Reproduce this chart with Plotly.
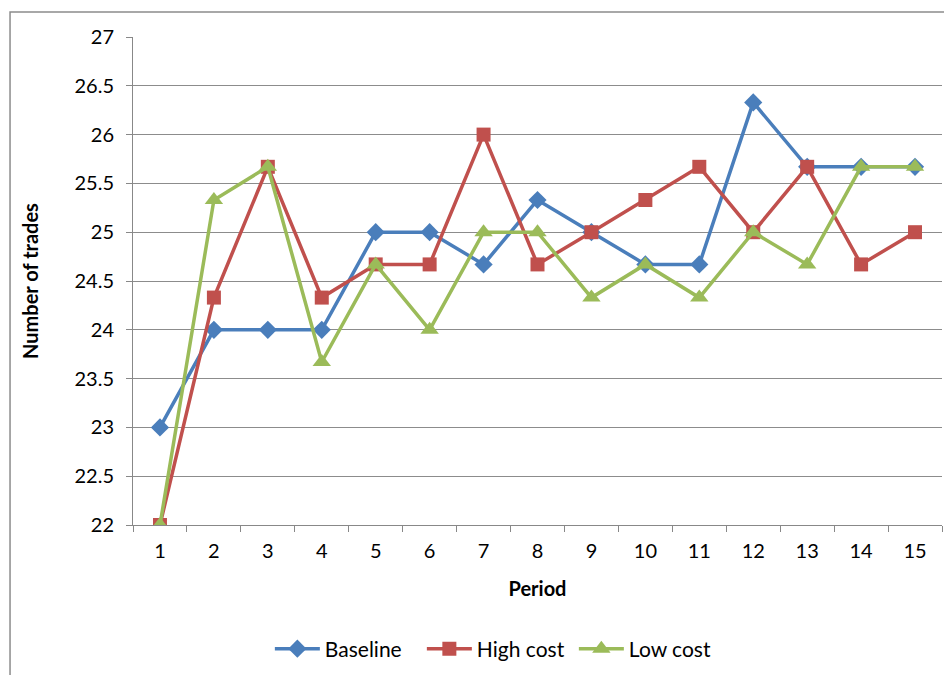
import plotly.graph_objects as go

periods = list(range(1, 16))
baseline = [23, 24, 24, 24, 25, 25, 24.67, 25.33, 25, 24.67, 24.67, 26.33, 25.67, 25.67, 25.67]
high_cost = [22, 24.33, 25.67, 24.33, 24.67, 24.67, 26, 24.67, 25, 25.33, 25.67, 25, 25.67, 24.67, 25]
low_cost = [22, 25.33, 25.67, 23.67, 24.67, 24, 25, 25, 24.33, 24.67, 24.33, 25, 24.67, 25.67, 25.67]
y_ticks = [22, 22.5, 23, 23.5, 24, 24.5, 25, 25.5, 26, 26.5, 27]

FONT = "Lato"
fig = go.Figure()
series = [
    ("Baseline", baseline, "#4A7EBB", "diamond", 14),
    ("High cost", high_cost, "#C0504D", "square", 14),
    ("Low cost", low_cost, "#9BBB59", "triangle-up", 16),
]
for name, vals, col, sym, sz in series:
    fig.add_trace(go.Scatter(
        x=periods, y=vals, name=name, mode="lines+markers",
        line=dict(color=col, width=3.5),
        marker=dict(symbol=sym, size=sz, color=col),
    ))

fig.update_layout(
    width=944, height=667,
    margin=dict(l=125, r=10, t=29, b=150),
    paper_bgcolor="white", plot_bgcolor="white",
    font=dict(family=FONT, size=20, color="black"),
    showlegend=True,
    legend=dict(orientation="h", x=0.451, xanchor="center",
                yref="container", y=0.039, yanchor="middle",
                font=dict(family=FONT, size=21), traceorder="normal",
                itemwidth=45, entrywidth=92),
    xaxis=dict(
        range=[0.5, 15.5], tickvals=periods, ticktext=[str(p) for p in periods],
        ticks="", showgrid=False, zeroline=False, automargin=False,
        showline=True, linecolor="#888888", linewidth=1,
        tickfont=dict(family=FONT, size=20), ticklabelstandoff=8,
        minor=dict(tick0=0.5, dtick=1, ticks="outside", ticklen=6, tickcolor="#888888", showgrid=False),
        title=dict(text="<b>Period</b>", font=dict(family=FONT, size=20), standoff=20),
    ),
    yaxis=dict(
        range=[22, 27], tickvals=y_ticks, ticktext=[f"{v:g}" for v in y_ticks],
        ticks="outside", ticklen=6, tickcolor="#888888", automargin=False,
        showgrid=True, gridcolor="#8c8c8c", gridwidth=1, zeroline=False,
        showline=True, linecolor="#888888", linewidth=1,
        tickfont=dict(family=FONT, size=20), ticklabelstandoff=8,
        title=dict(text="<b>Number of trades</b>", font=dict(family=FONT, size=20), standoff=30),
    ),
)
fig.add_shape(type="rect", xref="paper", yref="paper",
              x0=-0.152, x1=1.2, y0=-0.5, y1=1.051,
              line=dict(color="#8c8c8c", width=1.5), fillcolor="rgba(0,0,0,0)", layer="below")

fig.write_html("out.html")
